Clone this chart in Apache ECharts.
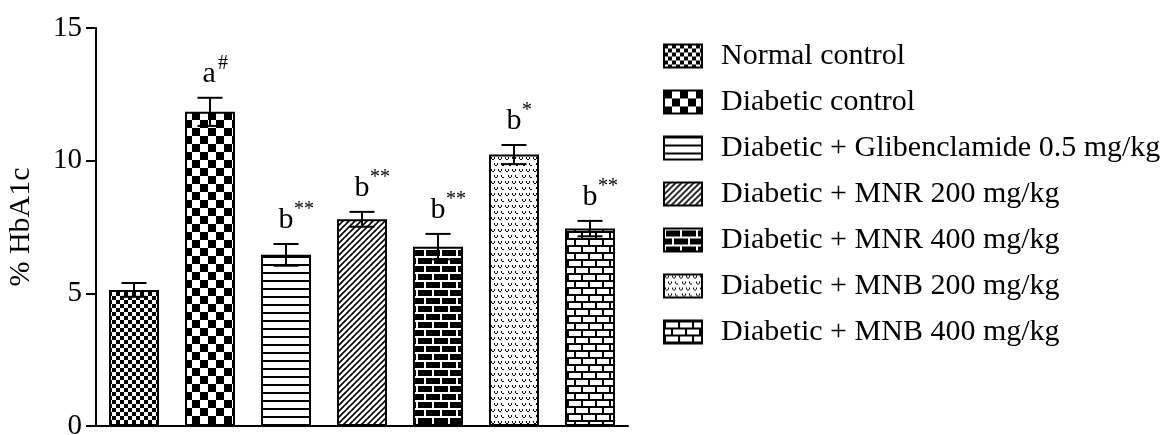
<!DOCTYPE html>
<html>
<head>
<meta charset="utf-8">
<script src="https://cdn.jsdelivr.net/npm/echarts@6/dist/echarts.min.js"></script>
<style>
  html, body { margin: 0; padding: 0; background: #fff; }
  #chart { width: 1161px; height: 435px; }
</style>
</head>
<body>
<div id="chart"></div>
<script>
// ---- data ----
const groups = [
  'Normal control',
  'Diabetic control',
  'Diabetic + Glibenclamide 0.5 mg/kg',
  'Diabetic + MNR 200 mg/kg',
  'Diabetic + MNR 400 mg/kg',
  'Diabetic + MNB 200 mg/kg',
  'Diabetic + MNB 400 mg/kg'
];
const meanHbA1c = [5.13, 11.84, 6.45, 7.79, 6.76, 10.23, 7.44];
const semHbA1c  = [0.26, 0.53, 0.41, 0.28, 0.48, 0.36, 0.29];
const sigLetter = ['', 'a', 'b', 'b', 'b', 'b', 'b'];
const sigMark   = ['', '#', '**', '**', '**', '*', '**'];
const yTicks = [0, 5, 10, 15];

// ---- pattern tiles ----
function tile(w, h, draw) {
  const c = document.createElement('canvas');
  c.width = w; c.height = h;
  const g = c.getContext('2d');
  g.fillStyle = '#fff'; g.fillRect(0, 0, w, h);
  g.fillStyle = '#000'; g.strokeStyle = '#000';
  draw(g);
  return { image: c, repeat: 'repeat' };
}
const patterns = [
  tile(8, 8, g => { g.fillRect(0, 0, 4, 4); g.fillRect(4, 4, 4, 4); }),
  tile(16, 16, g => { g.fillRect(0, 0, 8, 8); g.fillRect(8, 8, 8, 8); }),
  tile(8, 8, g => { g.fillRect(0, 0, 8, 2); }),
  tile(6, 6, g => {
    g.lineWidth = 1.6;
    g.beginPath();
    g.moveTo(-1, 7); g.lineTo(7, -1);
    g.moveTo(-4, 4); g.lineTo(4, -4);
    g.moveTo(2, 10); g.lineTo(10, 2);
    g.stroke();
  }),
  tile(16, 16, g => {
    g.fillRect(0, 0, 16, 16);
    g.fillStyle = '#fff';
    g.fillRect(0, 0, 16, 2); g.fillRect(0, 8, 16, 2);
    g.fillRect(0, 2, 2, 6); g.fillRect(8, 10, 2, 6);
  }),
  tile(14, 12, g => {
    const v = (x, y) => { g.fillRect(x, y, 1, 2); g.fillRect(x + 3, y, 1, 2); g.fillRect(x + 1, y + 2, 2, 1); };
    v(1, 1); v(8, 1); v(4, 7); v(11, 7);
  }),
  tile(14, 14, g => {
    g.fillRect(0, 0, 14, 2); g.fillRect(0, 7, 14, 2);
    g.fillRect(0, 2, 2, 5); g.fillRect(7, 9, 2, 5);
  })
];

const FONT = "'Liberation Serif', 'Times New Roman', serif";

const barSeries = groups.map((name, i) => ({
  name: name,
  type: 'bar',
  barWidth: 50,
  barGap: '-100%',
  itemStyle: { color: patterns[i], borderColor: '#000', borderWidth: 2 },
  emphasis: { disabled: true },
  data: groups.map((_, j) => (j === i ? meanHbA1c[i] : '-')),
  z: 2
}));

const errData = meanHbA1c.map((m, i) => [i, m, semHbA1c[i]]);

const chart = echarts.init(document.getElementById('chart'));
chart.setOption({
  animation: false,
  backgroundColor: '#fff',
  grid: { left: 96, right: 533, top: 28, bottom: 9, containLabel: false, outerBoundsMode: 'none' },
  xAxis: {
    type: 'category',
    data: groups,
    boundaryGap: true,
    axisLine: { lineStyle: { color: '#000', width: 2 } },
    axisTick: { show: false },
    axisLabel: { show: false },
    splitLine: { show: false }
  },
  yAxis: {
    type: 'value',
    min: yTicks[0],
    max: yTicks[yTicks.length - 1],
    interval: 5,
    name: '% HbA1c',
    nameLocation: 'middle',
    nameGap: 60,
    nameTextStyle: { fontFamily: FONT, fontSize: 30, color: '#000' },
    axisLine: { show: true, lineStyle: { color: '#000', width: 2 } },
    axisTick: { show: true, length: 10, lineStyle: { color: '#000', width: 2 } },
    axisLabel: { margin: 14, fontFamily: FONT, fontSize: 29, color: '#000' },
    splitLine: { show: false }
  },
  legend: {
    orient: 'vertical',
    left: 658,
    top: 36,
    icon: 'rect',
    itemWidth: 38,
    itemHeight: 23,
    itemGap: 16,
    selectedMode: false,
    data: groups,
    textStyle: { fontFamily: FONT, fontSize: 30, color: '#000', padding: [0, 0, 0, 14] }
  },
  series: barSeries.concat([{
    type: 'custom',
    z: 5,
    silent: true,
    data: errData,
    renderItem: function (params, api) {
      const x = api.value(0), m = api.value(1), s = api.value(2);
      const top = api.coord([x, m + s]);
      const bot = api.coord([x, m - s]);
      const hw = 12.5;
      const st = { stroke: '#000', lineWidth: 2 };
      const letter = sigLetter[params.dataIndex];
      const mark = sigMark[params.dataIndex];
      return {
        type: 'group',
        children: [
          { type: 'line', shape: { x1: top[0], y1: top[1], x2: bot[0], y2: bot[1] }, style: st },
          { type: 'line', shape: { x1: top[0] - hw, y1: top[1], x2: top[0] + hw, y2: top[1] }, style: st },
          { type: 'line', shape: { x1: bot[0] - hw, y1: bot[1], x2: bot[0] + hw, y2: bot[1] }, style: st },
          { type: 'text', style: { text: letter, x: top[0] - 7.5, y: top[1] - 9, align: 'left', verticalAlign: 'bottom', font: '30px ' + FONT, fill: '#000' } },
          { type: 'text', style: { text: mark, x: top[0] + 8, y: top[1] - 24.5, align: 'left', verticalAlign: 'bottom', font: '20px ' + FONT, fill: '#000' } }
        ]
      };
    }
  }])
});
</script>
</body>
</html>
